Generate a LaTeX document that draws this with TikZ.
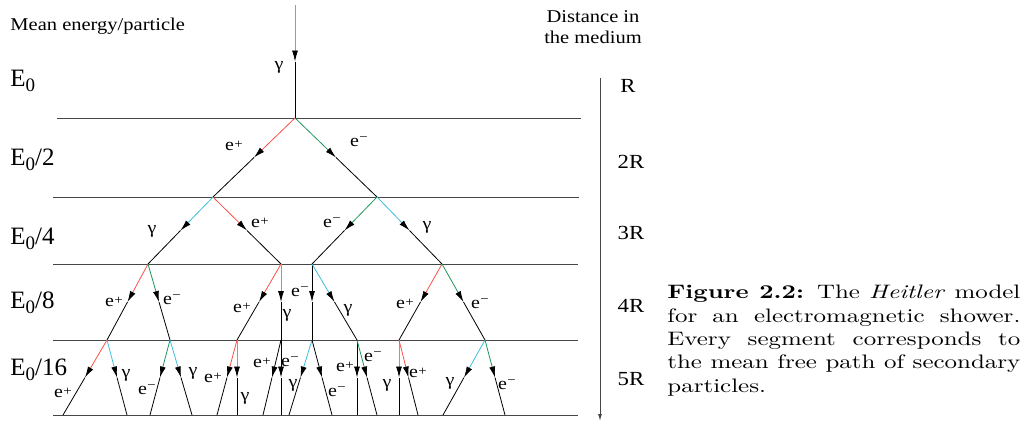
\documentclass[tikz,border=0pt]{standalone}
\usepackage{fontspec}
\usepackage{graphicx}
\setmainfont{lmroman10-regular.otf}[BoldFont=lmroman10-bold.otf,ItalicFont=lmroman10-italic.otf]
\newfontfamily\tms{Liberation Serif}
\usetikzlibrary{arrows.meta,calc}
\definecolor{cred}{RGB}{250,80,70}
\definecolor{cgreen}{RGB}{30,150,90}
\definecolor{ccyan}{RGB}{60,190,220}
\definecolor{hline}{RGB}{70,70,70}
\newcommand\shseg[3]{\draw[#3,-{Latex[length=11pt,width=6pt,color=black]}] (#1) -- ($(#1)!0.5!(#2)$);
  \draw[black] ($(#1)!0.5!(#2)$) -- (#2);}
\newcommand\epos{e\kern0.3pt\raisebox{2.5pt}{\fontsize{13}{13}\selectfont +}}
\newcommand\eneg{e\kern0.3pt\raisebox{5pt}{\fontsize{13}{13}\selectfont −}}
\newcommand\Esub{E\raisebox{-5pt}{\fontsize{19}{19}\selectfont 0}}
\newcommand\xs[1]{\scalebox{1.14}[1]{#1}}
\begin{document}
\begin{tikzpicture}[x=1pt,y=-1pt,line width=0.8pt,
  lab/.style={font=\tms\fontsize{17.5}{17.5}\selectfont,inner sep=0pt},
  big/.style={font=\tms\fontsize{18}{18}\selectfont,inner sep=0pt},
  rlab/.style={font=\tms\fontsize{20}{20}\selectfont,inner sep=0pt,anchor=base},
  elab/.style={font=\tms\fontsize{25}{25}\selectfont,inner sep=0pt,anchor=base west},
  hl/.style={draw=hline,line width=1pt}]
\useasboundingbox (0,0) rectangle (1024,423);
% horizontal level lines
\draw[hl] (57,118) -- (581,118);
\draw[hl] (53,197) -- (579,197);
\draw[hl] (53,264) -- (578,264);
\draw[hl] (53,340) -- (578,340);
\draw[hl] (53,415) -- (578,415);
% distance arrow
\draw[hline,line width=1pt,-{Latex[length=7pt,width=4pt]}] (600,78) -- (600,421);
% texts
\node[big,anchor=base west] (tmean) at (10,30) {\xs{Mean energy/particle}};
\node[big,anchor=base] (tdist1) at (593,22) {\xs{Distance in}};
\node[big,anchor=base] (tdist2) at (593,43) {\xs{the medium}};
\node[elab] (E0) at (10,86) {\Esub};
\node[elab] (E2) at (10,165) {\Esub/2};
\node[elab] (E4) at (10,244) {\Esub/4};
\node[elab] (E8) at (10,308) {\Esub/8};
\node[elab] (E16) at (10,375) {\Esub/16};
\node[rlab] (R1) at (628,92) {\xs{R}};
\node[rlab] (R2) at (631,168) {\xs{2R}};
\node[rlab] (R3) at (631,239) {\xs{3R}};
\node[rlab] (R4) at (631,312) {\xs{4R}};
\node[rlab] (R5) at (631,385) {\xs{5R}};
% vertices
\coordinate (v0) at (295,5);
\coordinate (a) at (295,118);
\coordinate (b1) at (213,197); \coordinate (b2) at (377,197);
\coordinate (c1) at (148,264); \coordinate (c2) at (281,264);
\coordinate (c3) at (312,264); \coordinate (c4) at (442,264);
\coordinate (d1) at (107,340); \coordinate (d2) at (170,340);
\coordinate (d3) at (237,340); \coordinate (d4) at (281,340);
\coordinate (d5) at (312,340); \coordinate (d6) at (357,340);
\coordinate (d7) at (399,340); \coordinate (d8) at (485,340);
\coordinate (e1) at (63,415);  \coordinate (e2) at (127,415);
\coordinate (e3) at (150,415); \coordinate (e4) at (192,415);
\coordinate (e5) at (217,415); \coordinate (e6) at (237,415);
\coordinate (e7) at (263,415); \coordinate (e8) at (281,415);
\coordinate (e9) at (289,415); \coordinate (e10) at (332,415);
\coordinate (e11) at (357,415); \coordinate (e12) at (377,415);
\coordinate (e13) at (399,415); \coordinate (e14) at (418,415);
\coordinate (e15) at (443,415); \coordinate (e16) at (505,415);
% segments
\shseg{v0}{a}{ccyan}
\shseg{a}{b1}{cred} \shseg{a}{b2}{cgreen}
\shseg{b1}{c1}{ccyan} \shseg{b1}{c2}{cred}
\shseg{b2}{c3}{cgreen} \shseg{b2}{c4}{ccyan}
\shseg{c1}{d1}{cred} \shseg{c1}{d2}{cgreen}
\shseg{c2}{d3}{cred} \shseg{c2}{d4}{ccyan}
\shseg{c3}{d5}{black} \shseg{c3}{d6}{ccyan}
\shseg{c4}{d7}{cred} \shseg{c4}{d8}{cgreen}
\shseg{d1}{e1}{cred} \shseg{d1}{e2}{ccyan}
\shseg{d2}{e3}{cgreen} \shseg{d2}{e4}{ccyan}
\shseg{d3}{e5}{cred} \shseg{d3}{e6}{ccyan}
\shseg{d4}{e7}{black} \shseg{d4}{e8}{black}
\shseg{d5}{e9}{ccyan} \shseg{d5}{e10}{black}
\shseg{d6}{e11}{black} \shseg{d6}{e12}{cgreen}
\shseg{d7}{e13}{ccyan} \shseg{d7}{e14}{cred}
\shseg{d8}{e15}{ccyan} \shseg{d8}{e16}{cgreen}
% particle labels
\node[lab] (l0) at (279,67) {\xs{γ}};
\node[lab] (l1) at (234,146) {\xs{\epos}};
\node[lab] (l2) at (359,142) {\xs{\eneg}};
\node[lab] (l3) at (152,231) {\xs{γ}};
\node[lab] (l4) at (260,223) {\xs{\epos}};
\node[lab] (l5) at (332,223) {\xs{\eneg}};
\node[lab] (l6) at (427,227) {\xs{γ}};
\node[lab] (l7) at (114,302) {\xs{\epos}};
\node[lab] (l8) at (172,300) {\xs{\eneg}};
\node[lab] (l9) at (242,308) {\xs{\epos}};
\node[lab] (l10) at (287,315) {\xs{γ}};
\node[lab] (l11) at (300,292) {\xs{\eneg}};
\node[lab] (l12) at (348,310) {\xs{γ}};
\node[lab] (l13) at (405,304) {\xs{\epos}};
\node[lab] (l14) at (480,304) {\xs{\eneg}};
\node[lab] (l15) at (63,393) {\xs{\epos}};
\node[lab] (l16) at (126,375) {\xs{γ}};
\node[lab] (l17) at (147,390) {\xs{\eneg}};
\node[lab] (l18) at (193,373) {\xs{γ}};
\node[lab] (l19) at (213,378) {\xs{\epos}};
\node[lab] (l20) at (245,398) {\xs{γ}};
\node[lab] (l21) at (262,363) {\xs{\epos}};
\node[lab] (l22) at (290,362) {\xs{\eneg}};
\node[lab] (l23) at (293,385) {\xs{γ}};
\node[lab] (l24) at (337,392) {\xs{\eneg}};
\node[lab] (l25) at (345,367) {\xs{\epos}};
\node[lab] (l26) at (373,357) {\xs{\eneg}};
\node[lab] (l27) at (387,385) {\xs{γ}};
\node[lab] (l28) at (418,373) {\xs{\epos}};
\node[lab] (l29) at (450,383) {\xs{γ}};
\node[lab] (l30) at (507,385) {\xs{\eneg}};
% caption
\node[anchor=north west,inner sep=0pt,
  font=\fontsize{19.5}{23.3}\selectfont] (cap) at (667,285)
 {\scalebox{1.28}[1]{\parbox[t]{275.8pt}{%
  \makebox[275.8pt][s]{\textbf{Figure 2.2:} The \textit{Heitler} model}\\
  \makebox[275.8pt][s]{for an electromagnetic shower.}\\
  \makebox[275.8pt][s]{Every segment corresponds to}\\
  \makebox[275.8pt][s]{the mean free path of secondary}\\
  particles.}}};
\end{tikzpicture}
\end{document}
